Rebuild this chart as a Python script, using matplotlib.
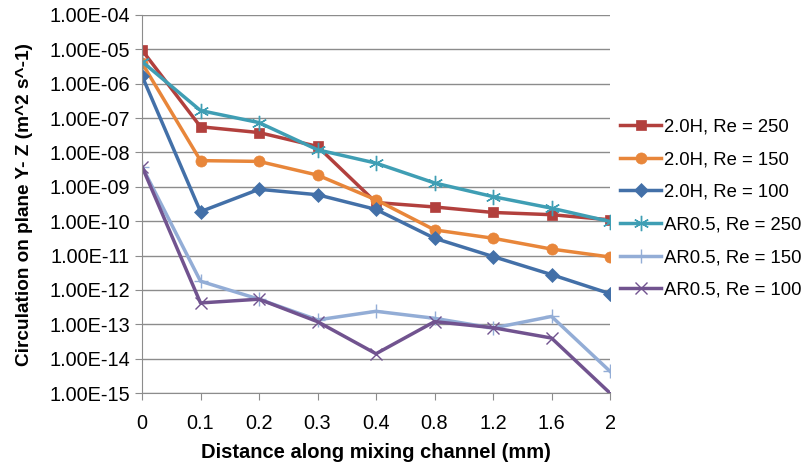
import matplotlib.pyplot as plt
import matplotlib.ticker as mticker
import numpy as np

plt.rcParams['font.family'] = ['Liberation Sans', 'DejaVu Sans']

# distance along the mixing channel (mm), plotted as categories
distance = ['0', '0.1', '0.2', '0.3', '0.4', '0.8', '1.2', '1.6', '2']

h20_re250 = [9.5e-6, 5.6e-8, 3.8e-8, 1.5e-8, 3.5e-10, 2.6e-10, 1.8e-10, 1.55e-10, 1.1e-10]
h20_re150 = [4.0e-6, 5.8e-9, 5.5e-9, 2.2e-9, 4.2e-10, 5.6e-11, 3.2e-11, 1.55e-11, 9.1e-12]
h20_re100 = [1.7e-6, 1.9e-10, 8.5e-10, 5.9e-10, 2.2e-10, 3.2e-11, 9.4e-12, 2.8e-12, 7.8e-13]
ar05_re250 = [4.4e-6, 1.66e-7, 7.4e-8, 1.2e-8, 4.9e-9, 1.3e-9, 5.2e-10, 2.4e-10, 9.8e-11]
ar05_re150 = [3.9e-9, 1.8e-12, 5.4e-13, 1.35e-13, 2.4e-13, 1.5e-13, 7.8e-14, 1.7e-13, 4.3e-15]
ar05_re100 = [3.9e-9, 4.2e-13, 5.4e-13, 1.2e-13, 1.4e-14, 1.2e-13, 8.0e-14, 4.0e-14, 1.0e-15]

series = [
    ('2.0H, Re = 250', h20_re250, '#B2403D', 's', 7),
    ('2.0H, Re = 150', h20_re150, '#E8863A', 'o', 8),
    ('2.0H, Re = 100', h20_re100, '#4370A8', 'D', 7),
    ('AR0.5, Re = 250', ar05_re250, '#3F9EB4', (6, 2, 0), 11),
    ('AR0.5, Re = 150', ar05_re150, '#93ADD6', '+', 10),
    ('AR0.5, Re = 100', ar05_re100, '#71538F', 'x', 8),
]

fig = plt.figure(figsize=(8.05, 4.68), dpi=100)
ax = fig.add_axes([0.1764, 0.160, 0.5814, 0.808])

x = np.arange(len(distance))
for label, vals, color, marker, ms in series:
    thin = marker in ('+', 'x') or isinstance(marker, tuple)
    ax.plot(x, vals, color=color, lw=2.5, marker=marker, ms=ms,
            mew=1.0 if thin else 0.5, mec=color, label=label)

ax.set_yscale('log')
ax.set_ylim(1e-15, 1e-4)
ax.set_xlim(0, len(distance) - 1)
ax.yaxis.set_major_locator(mticker.LogLocator(base=10, numticks=20))
ax.yaxis.set_minor_locator(mticker.NullLocator())
ax.yaxis.set_major_formatter(mticker.FuncFormatter(lambda v, p: f'{v:.2E}'))
ax.set_xticks(x)
ax.set_xticklabels(distance)

ax.grid(axis='y', color='#8C8C8C', lw=1.0)
ax.set_axisbelow(True)
for side in ('top', 'right'):
    ax.spines[side].set_visible(False)
for side in ('left', 'bottom'):
    ax.spines[side].set_color('#8C8C8C')
ax.tick_params(axis='both', colors='#8C8C8C', labelcolor='black',
               labelsize=14.3, length=5)
ax.tick_params(axis='x', pad=10)

ax.set_xlabel('Distance along mixing channel (mm)', fontsize=14.5,
              fontweight='bold')
ax.set_ylabel('Circulation on plane Y- Z (m^2 s^-1)', fontsize=13.7,
              fontweight='bold')
ax.xaxis.set_label_coords(0.5, -0.132)
ax.yaxis.set_label_coords(-0.232, 0.5)

ax.legend(loc='upper left', bbox_to_anchor=(1.005, 0.746), frameon=False,
          fontsize=13.3, handlelength=2.25, handletextpad=0.15,
          labelspacing=0.85, borderaxespad=0)

fig.savefig('out.png', dpi=100)
